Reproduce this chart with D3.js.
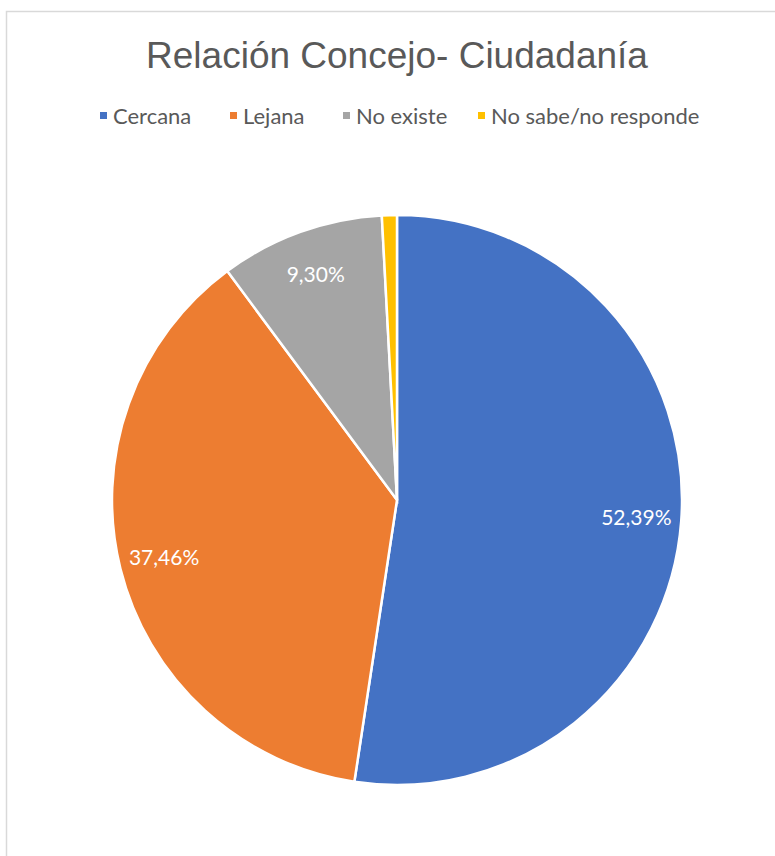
<!DOCTYPE html>
<html>
<head>
<meta charset="utf-8">
<script src="https://cdn.jsdelivr.net/npm/d3@7"></script>
<style>
  body { margin: 0; background: #fff; }
</style>
</head>
<body>
<script>
// data
var categories = ['Cercana', 'Lejana', 'No existe', 'No sabe/no responde']
var values = [52.39, 37.46, 9.30, 0.85]
var labels = ['52,39%', '37,46%', '9,30%', '']
var colors = ['#4472c4', '#ed7d31', '#a5a5a5', '#ffc000']

var width = 775, height = 856
var cx = 397, cy = 500, radius = 285

var svg = d3.select('body').append('svg')
    .attr('width', width)
    .attr('height', height)

// chart frame
svg.append('rect')
    .attr('x', 6.5).attr('y', 11.5)
    .attr('width', 800).attr('height', 900)
    .attr('fill', '#fff')
    .attr('stroke', '#d9d9d9')
    .attr('stroke-width', 1.5)

svg.append('text')
    .attr('x', 397).attr('y', 68)
    .attr('text-anchor', 'middle')
    .attr('font-family', 'Liberation Sans, Arial, sans-serif')
    .attr('font-size', 37)
    .attr('fill', '#595959')
    .text('Relación Concejo- Ciudadanía')

// legend
var legendX = [100, 230, 343, 478]
var legend = svg.append('g')
categories.forEach((c, i) => {
    legend.append('rect')
        .attr('x', legendX[i]).attr('y', 112)
        .attr('width', 7).attr('height', 7)
        .attr('fill', colors[i])
    legend.append('text')
        .attr('x', legendX[i] + 13).attr('y', 124)
        .attr('font-family', 'Lato, sans-serif')
        .attr('font-size', 22)
        .attr('fill', '#595959')
        .text(c)
})

var pie = d3.pie().sort(null).value(d => d)
var arc = d3.arc().innerRadius(0).outerRadius(radius)
var labelArc = d3.arc().innerRadius(240).outerRadius(240)

var g = svg.append('g')
    .attr('transform', 'translate(' + cx + ',' + cy + ')')

var arcs = pie(values)

g.selectAll('path')
    .data(arcs)
    .enter().append('path')
    .attr('d', arc)
    .attr('fill', (d, i) => colors[i])
    .attr('stroke', '#fff')
    .attr('stroke-width', 2.5)

g.selectAll('text.lbl')
    .data(arcs)
    .enter().append('text')
    .attr('class', 'lbl')
    .attr('transform', d => 'translate(' + labelArc.centroid(d) + ')')
    .attr('text-anchor', 'middle')
    .attr('dy', '0.35em')
    .attr('font-family', 'Lato, sans-serif')
    .attr('font-size', 21)
    .attr('fill', '#fff')
    .text((d, i) => labels[i])
</script>
</body>
</html>
